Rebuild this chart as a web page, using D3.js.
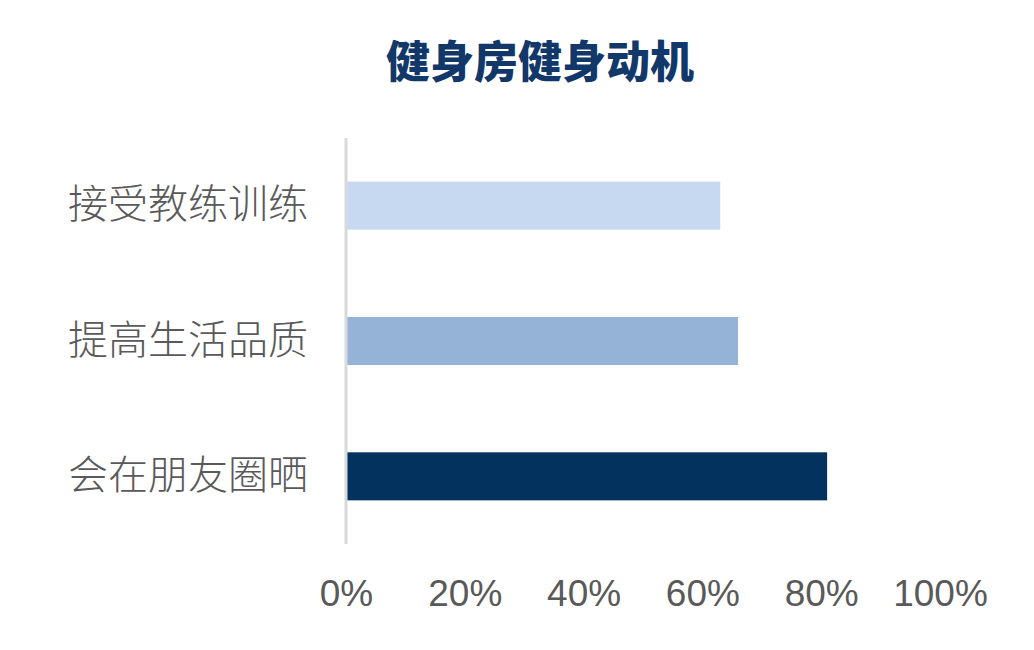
<!DOCTYPE html>
<html>
<head>
<meta charset="utf-8">
<script src="https://cdn.jsdelivr.net/npm/d3@7"></script>
<style>
  body { margin: 0; background: #fff; }
</style>
</head>
<body>
<div class="chart"></div>
<script>
const categories = ['接受教练训练', '提高生活品质', '会在朋友圈晒']
const values = [63, 66, 81]
const barColors = ['#c6d9f0', '#95b3d7', '#03325f']
const tickValues = [0, 20, 40, 60, 80, 100]
const title = '健身房健身动机'

const width = 1034
const height = 650

const svg = d3.select('.chart')
  .append('svg')
  .attr('width', width)
  .attr('height', height)

const x = d3.scaleLinear()
  .domain([0, 100])
  .range([346, 940])

const y = d3.scaleBand()
  .domain(categories)
  .range([138, 544])
  .paddingInner(0.645)
  .paddingOuter(0.3225)

// title
svg.append('text')
  .attr('x', 540)
  .attr('y', 78)
  .attr('text-anchor', 'middle')
  .attr('font-family', '"Noto Sans CJK SC", sans-serif')
  .attr('font-weight', 900)
  .attr('font-size', 44)
  .attr('fill', '#12386a')
  .text(title)

// bars
svg.selectAll('.bar')
  .data(categories)
  .enter()
  .append('rect')
  .attr('class', 'bar')
  .attr('x', x(0))
  .attr('y', (d) => y(d))
  .attr('width', (d, i) => x(values[i]) - x(0))
  .attr('height', y.bandwidth())
  .attr('fill', (d, i) => barColors[i])

// y axis line + labels
const yAxis = svg.append('g')
  .attr('transform', `translate(${x(0)},0)`)
  .call(d3.axisLeft(y).tickSize(0).tickPadding(38))

yAxis.select('.domain')
  .attr('stroke', '#d9d9d9')
  .attr('stroke-width', 3)
  .attr('d', 'M0,138V544')

yAxis.selectAll('text')
  .attr('font-family', '"Noto Sans CJK SC", serif')
  .attr('font-weight', 300)
  .attr('font-size', 40)
  .attr('fill', '#595959')

// x axis labels
const xAxis = svg.append('g')
  .attr('transform', 'translate(0,570)')
  .call(d3.axisBottom(x).tickValues(tickValues).tickSize(0).tickPadding(10)
    .tickFormat((d) => d + '%'))

xAxis.select('.domain').remove()
xAxis.selectAll('text')
  .attr('font-family', '"Liberation Sans", Arial, sans-serif')
  .attr('font-size', 37)
  .attr('fill', '#595959')
</script>
</body>
</html>
